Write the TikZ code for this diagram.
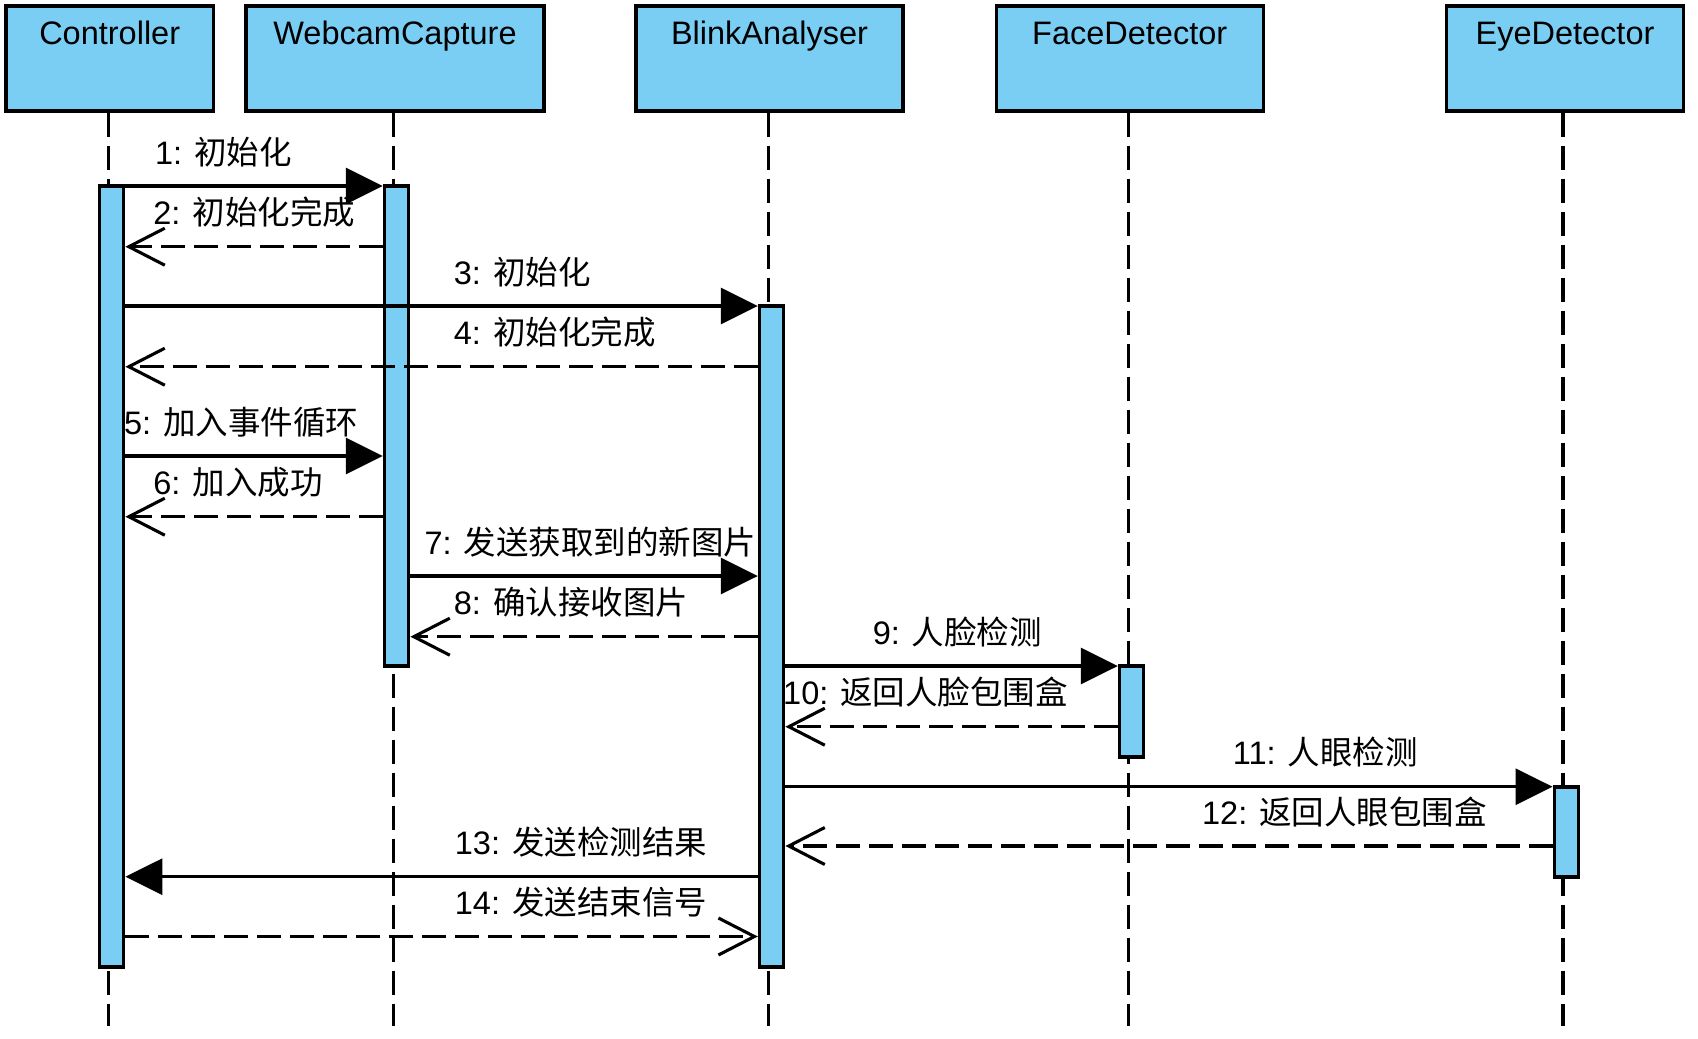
\documentclass[tikz,border=0pt]{standalone}
\usepackage{fontspec}
\setmainfont{Liberation Sans}
\newfontfamily\cjk{Noto Sans CJK SC}
\usetikzlibrary{arrows.meta}
\definecolor{actblue}{RGB}{122,206,244}
\begin{document}
\begin{tikzpicture}[x=1bp,y=-1bp,
  head/.style={draw, line width=3.1bp, fill=actblue, minimum height=105bp, inner sep=0pt},
  bar/.style={draw, line width=3.1bp, fill=actblue, minimum width=24.5bp, inner sep=0pt},
  life/.style={line width=3.1bp, dash pattern=on 24bp off 9bp},
  call/.style={line width=3.1bp, -{Triangle[length=37bp,width=36bp]}},
  ret/.style={line width=3.1bp, dash pattern=on 24bp off 9bp, -{Straight Barb[length=36bp,width=37bp,line width=3.1bp]}},
  lbl/.style={anchor=base west, inner sep=0pt, font=\fontsize{32.5bp}{39bp}\selectfont},
  ttl/.style={anchor=base, inner sep=0pt, font=\fontsize{32.5bp}{39bp}\selectfont}]
\useasboundingbox (0,0) rectangle (1698,1038);

% heads
\node[head, minimum width=207.3bp] (hc) at (109.7,58.5) {};
\node[head, minimum width=298bp] (hw) at (395,58.5) {};
\node[head, minimum width=267bp] (hb) at (769.5,58.5) {};
\node[head, minimum width=267.3bp] (hf) at (1129.7,58.5) {};
\node[head, minimum width=237.4bp] (he) at (1565,58.5) {};
\node[ttl] (tc) at (hc.center |- 0,44.5) {Controller};
\node[ttl] (tw) at (hw.center |- 0,44.5) {WebcamCapture};
\node[ttl] (tb) at (hb.center |- 0,44.5) {BlinkAnalyser};
\node[ttl] (tf) at (hf.center |- 0,44.5) {FaceDetector};
\node[ttl] (te) at (he.center |- 0,44.5) {EyeDetector};

% lifeline ends
\coordinate (ec) at (108.3,1026);
\coordinate (ew) at (393.3,1026);
\coordinate (eb) at (768.3,1026);
\coordinate (ef) at (1128.3,1026);
\coordinate (ee) at (1563,1026);
\draw[life] (hc.south -| ec) -- (ec);
\draw[life] (hw.south -| ew) -- (ew);
\draw[life] (hb.south -| eb) -- (eb);
\draw[life] (hf.south -| ef) -- (ef);
\draw[life] (he.south -| ee) -- (ee);

% activation bars
\node[bar, minimum height=781bp] (ac) at (111.6,576.5) {};
\node[bar, minimum height=480bp] (aw) at (396.6,426) {};
\node[bar, minimum height=661bp] (ab) at (771.6,636.5) {};
\node[bar, minimum height=91bp] (af) at (1131.6,711.5) {};
\node[bar, minimum height=90bp] (ae) at (1566.3,832) {};

% message rows
\coordinate (m1) at (0,186);
\coordinate (m2) at (0,246.7);
\coordinate (m3) at (0,306);
\coordinate (m4) at (0,366.7);
\coordinate (m5) at (0,456);
\coordinate (m6) at (0,516.7);
\coordinate (m7) at (0,576);
\coordinate (m8) at (0,636.7);
\coordinate (m9) at (0,666);
\coordinate (m10) at (0,726.7);
\coordinate (m11) at (0,786.7);
\coordinate (m12) at (0,846);
\coordinate (m13) at (0,876.7);
\coordinate (m14) at (0,936.5);

\draw[call] (ac.east |- m1) -- (aw.west |- m1);
\draw[ret] (aw.west |- m2) -- (ac.east |- m2);
\draw[call] (ac.east |- m3) -- (ab.west |- m3);
\draw[ret] (ab.west |- m4) -- (ac.east |- m4);
\draw[call] (ac.east |- m5) -- (aw.west |- m5);
\draw[ret] (aw.west |- m6) -- (ac.east |- m6);
\draw[call] (aw.east |- m7) -- (ab.west |- m7);
\draw[ret] (ab.west |- m8) -- (aw.east |- m8);
\draw[call] (ab.east |- m9) -- (af.west |- m9);
\draw[ret] (af.west |- m10) -- (ab.east |- m10);
\draw[call] (ab.east |- m11) -- (ae.west |- m11);
\draw[ret] (ae.west |- m12) -- (ab.east |- m12);
\draw[call] (ab.west |- m13) -- (ac.east |- m13);
\draw[ret] (ac.east |- m14) -- (ab.west |- m14);

% labels
\node[lbl] (l1) at (154.9,164) {1: {\cjk 初始化}};
\node[lbl] (l2) at (153.2,224.7) {2: {\cjk 初始化完成}};
\node[lbl] (l3) at (453.7,284) {3: {\cjk 初始化}};
\node[lbl] (l4) at (453.7,344.7) {4: {\cjk 初始化完成}};
\node[lbl] (l5) at (123.9,434) {5: {\cjk 加入事件循环}};
\node[lbl] (l6) at (153.2,494.7) {6: {\cjk 加入成功}};
\node[lbl] (l7) at (424.3,554) {7: {\cjk 发送获取到的新图片}};
\node[lbl] (l8) at (453.7,614.7) {8: {\cjk 确认接收图片}};
\node[lbl] (l9) at (872.6,644) {9: {\cjk 人脸检测}};
\node[lbl] (l10) at (783,704.7) {10: {\cjk 返回人脸包围盒}};
\node[lbl] (l11) at (1232.7,764.7) {11: {\cjk 人眼检测}};
\node[lbl] (l12) at (1201.9,824) {12: {\cjk 返回人眼包围盒}};
\node[lbl] (l13) at (454.7,854.7) {13: {\cjk 发送检测结果}};
\node[lbl] (l14) at (454.7,914.5) {14: {\cjk 发送结束信号}};
\end{tikzpicture}
\end{document}
